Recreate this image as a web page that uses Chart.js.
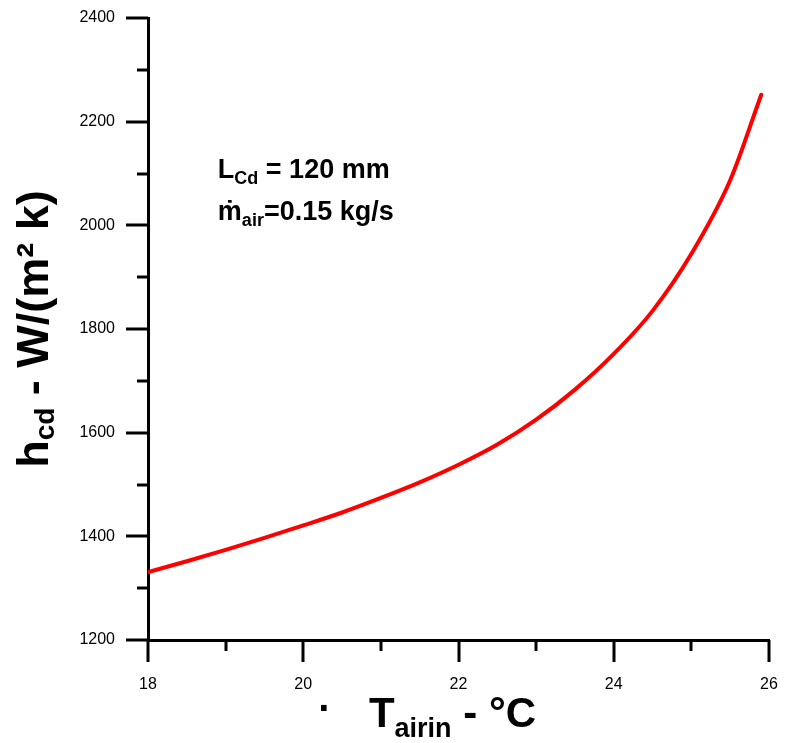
<!DOCTYPE html>
<html>
<head>
<meta charset="utf-8">
<script src="https://cdn.jsdelivr.net/npm/chart.js@4.4.1/dist/chart.umd.min.js"></script>
<style>
  html, body { margin: 0; padding: 0; background: #ffffff; }
  #wrap { width: 788px; height: 743px; }
</style>
</head>
<body>
<div id="wrap"><canvas id="c" width="788" height="743"></canvas></div>
<script>
// Inlet air temperature (°C)
const airInletTemp = [18, 18.5, 19, 19.5, 20, 20.5, 21, 21.5, 22, 22.5, 23, 23.5, 24, 24.5, 25, 25.5, 25.9];
// Condenser heat transfer coefficient h_cd (W/(m² K))
const hcdValues = [1331, 1352, 1374, 1397, 1421, 1446, 1474, 1504, 1538, 1577, 1625, 1683, 1752, 1835, 1945, 2087, 2252];

const xTickValues = [18, 20, 22, 24, 26];
const yTickValues = [1200, 1400, 1600, 1800, 2000, 2200, 2400];

const FONT = '"Liberation Sans", Arial, "DejaVu Sans", sans-serif';

// width of a run of text pieces (normal + subscript)
function richWidth(ctx, parts) {
  let w = 0;
  for (const p of parts) {
    ctx.font = 'bold ' + p.size + 'px ' + FONT;
    w += ctx.measureText(p.text).width;
  }
  return w;
}
// draws a run of text pieces starting at x, baseline y
function drawRich(ctx, parts, x, y) {
  let cx = x;
  for (const p of parts) {
    ctx.font = 'bold ' + p.size + 'px ' + FONT;
    ctx.fillText(p.text, cx, y + (p.dy || 0));
    cx += ctx.measureText(p.text).width;
  }
}

const decorations = {
  id: 'decorations',
  afterDraw(chart) {
    const ctx = chart.ctx;
    const xs = chart.scales.x, ys = chart.scales.y;
    const area = chart.chartArea;
    ctx.save();
    ctx.strokeStyle = '#000';
    ctx.lineWidth = 3;
    ctx.lineCap = 'butt';
    // x ticks: major every 2, minor in between, pointing outward
    for (let v = 18; v <= 26; v += 1) {
      const px = Math.round(xs.getPixelForValue(v));
      const len = (v % 2 === 0) ? 22 : 11;
      ctx.beginPath();
      ctx.moveTo(px, area.bottom);
      ctx.lineTo(px, area.bottom + len);
      ctx.stroke();
    }
    // y ticks: major every 200, minor every 100
    for (let v = 1200; v <= 2400; v += 100) {
      const py = Math.round(ys.getPixelForValue(v));
      const len = (v % 200 === 0) ? 22 : 11;
      ctx.beginPath();
      ctx.moveTo(area.left - len, py);
      ctx.lineTo(area.left, py);
      ctx.stroke();
    }

    ctx.fillStyle = '#000';
    ctx.textAlign = 'left';
    ctx.textBaseline = 'alphabetic';

    // x axis title
    const xt = [
      { text: 'T', size: 42 },
      { text: 'airin', size: 27, dy: 10 },
      { text: ' - °C', size: 42 }
    ];
    const xw = richWidth(ctx, xt);
    const xc = (area.left + area.right) / 2 - 6;
    const xStart = xc - xw / 2;
    drawRich(ctx, xt, xStart, 727);
    ctx.font = 'bold 40px ' + FONT;
    ctx.textAlign = 'center';
    ctx.fillText('·', xStart - 44, 722);
    ctx.textAlign = 'left';

    // y axis title (rotated)
    const yt = [
      { text: 'h', size: 45 },
      { text: 'cd', size: 28, dy: 6 },
      { text: ' - W/(m² k)', size: 45 }
    ];
    const yw = richWidth(ctx, yt);
    ctx.save();
    ctx.translate(48, (area.top + area.bottom) / 2);
    ctx.rotate(-Math.PI / 2);
    drawRich(ctx, yt, -yw / 2, 0);
    ctx.restore();

    // parameter annotation
    const ax = xs.getPixelForValue(18.9);
    const ay1 = ys.getPixelForValue(2091);
    const ay2 = ys.getPixelForValue(2010);
    drawRich(ctx, [
      { text: 'L', size: 27 },
      { text: 'Cd', size: 18, dy: 6 },
      { text: ' = 120 mm', size: 27 }
    ], ax, ay1);
    drawRich(ctx, [
      { text: 'ṁ', size: 27 },
      { text: 'air', size: 18, dy: 6 },
      { text: '=0.15 kg/s', size: 27 }
    ], ax, ay2);
    ctx.restore();
  }
};

new Chart(document.getElementById('c'), {
  type: 'line',
  data: {
    datasets: [{
      data: airInletTemp.map((t, i) => ({ x: t, y: hcdValues[i] })),
      borderColor: '#ff0000',
      borderWidth: 4,
      pointRadius: 0,
      fill: false,
      cubicInterpolationMode: 'monotone',
      borderCapStyle: 'round'
    }]
  },
  options: {
    responsive: false,
    animation: false,
    devicePixelRatio: 1,
    layout: { autoPadding: false, padding: { left: 0, right: 19, top: 18, bottom: 0 } },
    plugins: { legend: { display: false }, tooltip: { enabled: false } },
    scales: {
      x: {
        type: 'linear',
        min: 18, max: 26,
        afterFit(scale) {
          scale.height = 103;
          scale.paddingLeft = 0; scale.paddingRight = 0;
        },
        afterBuildTicks(scale) { scale.ticks = xTickValues.map(v => ({ value: v })); },
        grid: { display: false },
        border: { display: true, color: '#000', width: 3 },
        ticks: {
          color: '#000',
          font: { family: FONT, size: 16 },
          padding: 27,
          maxRotation: 0,
          callback: v => String(v)
        }
      },
      y: {
        min: 1200, max: 2400,
        afterFit(scale) {
          scale.width = 148;
          scale.paddingTop = 0; scale.paddingBottom = 0;
        },
        afterBuildTicks(scale) { scale.ticks = yTickValues.map(v => ({ value: v })); },
        grid: { display: false },
        border: { display: true, color: '#000', width: 3 },
        ticks: {
          color: '#000',
          font: { family: FONT, size: 16 },
          padding: 25,
          callback: v => String(v)
        }
      }
    }
  },
  plugins: [decorations]
});
</script>
</body>
</html>
